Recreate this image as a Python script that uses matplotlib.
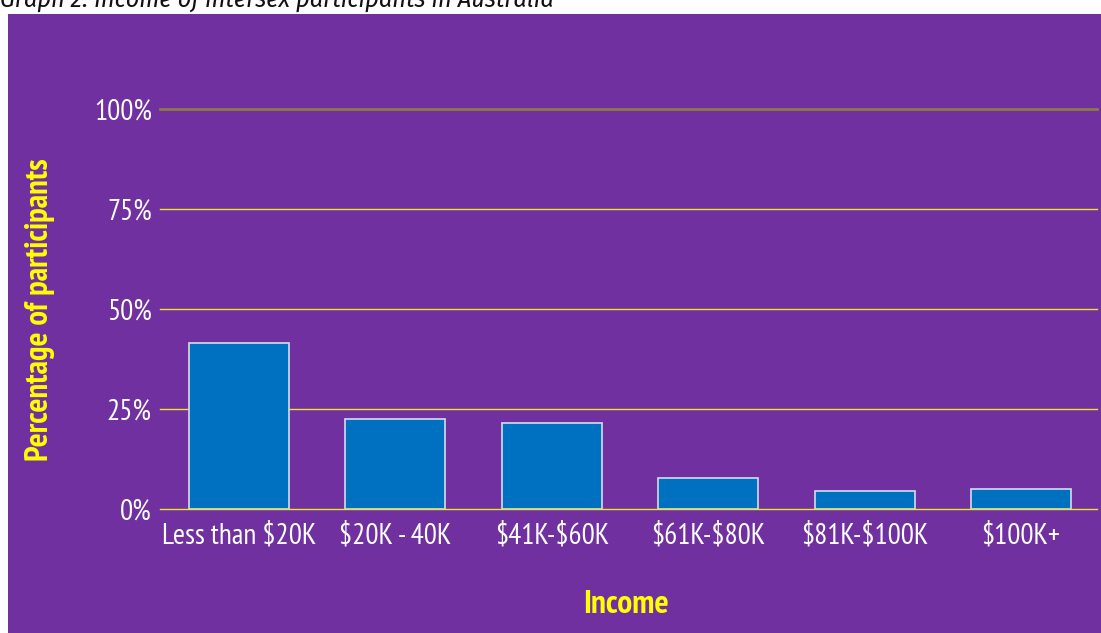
import matplotlib.pyplot as plt
from matplotlib.patches import Rectangle

categories = ["Less than $20K", "$20K - 40K", "$41K-$60K", "$61K-$80K", "$81K-$100K", "$100K+"]
percentages = [41.4, 22.4, 21.5, 7.7, 4.6, 5.1]
y_ticks = [0, 25, 50, 75, 100]
y_tick_labels = ["0%", "25%", "50%", "75%", "100%"]

PURPLE = "#7030A0"
BAR_BLUE = "#0070C0"
YELLOW = "#FFFF00"
GRID_YELLOW = "#EEE428"
TOP_LINE = "#8C7A48"

plt.rcParams["text.parse_math"] = False
plt.rcParams["font.family"] = ["PT Sans Narrow", "DejaVu Sans"]

W, H = 1101, 633
fig = plt.figure(figsize=(W / 100, H / 100), dpi=100)
fig.patch.set_facecolor("white")
fig.add_artist(Rectangle((8 / W, 0), 1 - 8 / W, (H - 14) / H, transform=fig.transFigure,
                         facecolor=PURPLE, edgecolor="none", zorder=0))

fig.text(0, (H - 8) / H, "Graph 2: Income of intersex participants in Australia",
         fontsize=18.8, style="italic", color="#111111", va="baseline", ha="left",
         family=["Fira Sans Condensed", "DejaVu Sans"])

ax = fig.add_axes([160 / W, (H - 509) / H, (1097 - 160) / W, 400 / H])
ax.set_facecolor("none")
x = list(range(len(categories)))
ax.bar(x, percentages, width=0.64, color=BAR_BLUE, edgecolor="#D6DCEA", linewidth=1.2, zorder=3)

for t in y_ticks[:-1]:
    ax.axhline(t, color=GRID_YELLOW, linewidth=1.0, zorder=2, clip_on=False)
ax.axhline(100, color=TOP_LINE, linewidth=2, zorder=2, clip_on=False)

ax.set_xlim(-0.505, 5.486)
ax.set_ylim(0, 100)
ax.set_yticks(y_ticks)
ax.set_yticklabels(y_tick_labels, fontsize=21, color="white")
ax.set_xticks(x)
ax.set_xticklabels(categories, fontsize=21, color="white")
ax.tick_params(axis="both", length=0)
ax.tick_params(axis="y", pad=6)
ax.tick_params(axis="x", pad=10)
for s in ax.spines.values():
    s.set_visible(False)

ax.set_ylabel("Percentage of participants", fontsize=23.5, fontweight="bold", color=YELLOW, va="center")
ax.yaxis.set_label_coords(-(160 - 40) / 937, (509 - 310) / 400)
ax.set_xlabel("Income", fontsize=24, fontweight="bold", color=YELLOW, va="center")
ax.xaxis.set_label_coords((626 - 160) / 937, -(605 - 509) / 400)

fig.savefig("out.png", dpi=100, facecolor=fig.get_facecolor())
